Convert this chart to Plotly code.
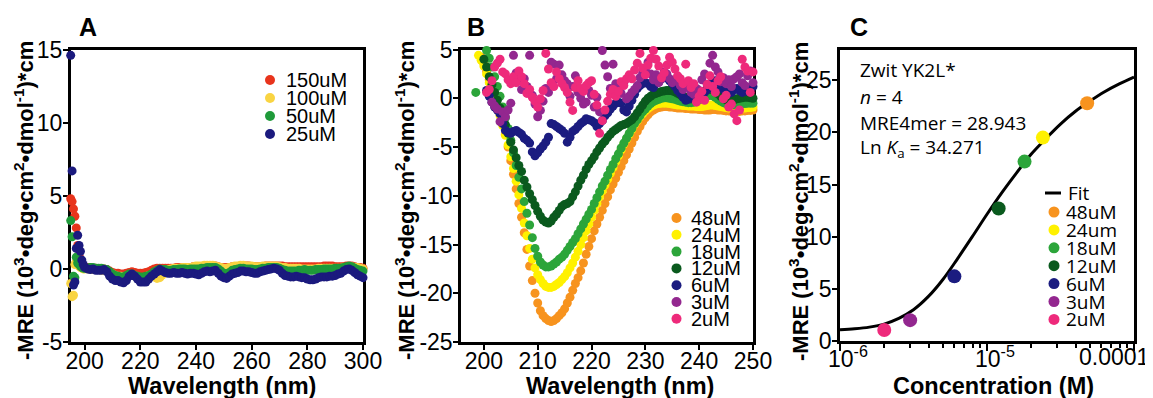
import plotly.graph_objects as go

# The page body adds an 8 px margin; positions below are given in window pixels.
OFF = 8
W, H = 1153 - OFF, 398 - OFF

# ---------------- Panel A data (wavelength nm, -MRE x1e3) ----------------
wl_a = [195 + 0.5 * i for i in range(11)] + list(range(201, 301))
a_names = ["150uM", "100uM", "50uM", "25uM"]
a_colors = ["#E8341C", "#F9D442", "#1F9A3A", "#1B1A7E"]
a_150 = [4.8, 4.6, 4.1, 3.6, 2.8, 1.6, 0.9, 0.5, 0.3, 0.2, 0.15,
         0.1, 0.1, 0.05, 0.05, 0.0, 0.0, 0.0, -0.05, -0.15, -0.25,
         -0.3, -0.3, -0.35, -0.35, -0.3, -0.25, -0.2, -0.25, -0.3, -0.3,
         -0.3, -0.25, -0.2, -0.1, 0.0, 0.05, 0.05, 0.05, 0.05, 0.05,
         0.05, 0.05, 0.1, 0.1, 0.1, 0.1, 0.1, 0.1, 0.15, 0.15,
         0.15, 0.15, 0.15, 0.2, 0.2, 0.2, 0.2, 0.15, 0.1, 0.1,
         0.1, 0.1, 0.15, 0.15, 0.15, 0.15, 0.2, 0.2, 0.2, 0.15,
         0.15, 0.15, 0.15, 0.15, 0.2, 0.2, 0.2, 0.2, 0.2, 0.2,
         0.2, 0.15, 0.15, 0.15, 0.15, 0.15, 0.15, 0.15, 0.15, 0.15,
         0.15, 0.15, 0.15, 0.15, 0.15, 0.2, 0.2, 0.2, 0.2, 0.15,
         0.15, 0.15, 0.15, 0.2, 0.2, 0.2, 0.15, 0.1, 0.1, 0.05]
a_100 = [-1.0, -1.9, -1.8, 0.3, 0.5, 0.3, 0.2, 0.1, 0.05, 0.0, 0.0,
         0.0, 0.0, -0.05, -0.05, -0.05, -0.1, -0.1, -0.15, -0.25, -0.35,
         -0.45, -0.5, -0.5, -0.55, -0.5, -0.45, -0.45, -0.5, -0.55, -0.6,
         -0.6, -0.55, -0.45, -0.45, -0.55, -0.65, -0.6, -0.4, -0.2, -0.05,
         0.0, 0.05, 0.05, 0.05, 0.1, 0.1, 0.1, 0.1, 0.15, 0.2,
         0.2, 0.2, 0.25, 0.25, 0.25, 0.25, 0.2, 0.15, 0.1, 0.05,
         0.05, 0.1, 0.15, 0.2, 0.2, 0.25, 0.25, 0.2, 0.2, 0.2,
         0.15, 0.15, 0.15, 0.2, 0.2, 0.2, 0.2, 0.2, 0.2, 0.15,
         0.1, 0.1, 0.05, 0.05, 0.05, 0.05, 0.05, 0.0, 0.0, 0.0,
         0.0, 0.0, 0.0, 0.05, 0.05, 0.05, 0.05, 0.05, 0.05, 0.05,
         0.05, 0.05, 0.1, 0.1, 0.15, 0.15, 0.1, 0.1, 0.05, 0.0]
a_50 = [3.3, 2.2, -0.5, -0.6, 0.8, 0.4, 0.3, 0.2, 0.1, 0.05, 0.05,
        0.05, 0.1, 0.1, 0.05, 0.05, 0.05, 0.0, -0.05, -0.2, -0.35,
        -0.45, -0.5, -0.55, -0.55, -0.45, -0.35, -0.35, -0.45, -0.5, -0.55,
        -0.55, -0.5, -0.45, -0.35, -0.2, -0.1, 0.0, -0.05, -0.05, -0.1,
        -0.1, -0.05, -0.05, 0.0, 0.0, 0.0, -0.05, 0.0, 0.0, 0.0,
        0.0, 0.05, 0.05, 0.1, 0.1, 0.1, 0.1, 0.0, -0.15, -0.3,
        -0.35, -0.25, -0.1, -0.05, 0.0, 0.05, 0.05, 0.0, 0.0, 0.0,
        -0.05, -0.05, 0.0, 0.05, 0.05, 0.1, 0.1, 0.1, 0.1, 0.05,
        -0.05, -0.1, -0.15, -0.15, -0.15, -0.15, -0.1, -0.1, -0.05, -0.1,
        -0.1, -0.1, -0.05, -0.05, -0.05, 0.0, 0.0, 0.0, 0.0, 0.05,
        0.05, 0.05, 0.1, 0.15, 0.2, 0.15, 0.05, -0.05, -0.1, -0.15]
a_25 = [14.6, 6.7, -1.1, -0.9, 1.4, 2.3, 1.6, 1.2, 0.6, 0.3, 0.1,
        0.0, -0.05, 0.0, -0.1, -0.1, -0.1, -0.05, -0.2, -0.5, -0.7,
        -0.8, -0.8, -0.9, -0.95, -0.8, -0.5, -0.35, -0.5, -0.7, -0.9,
        -0.9, -0.9, -0.7, -0.5, -0.35, -0.2, -0.05, -0.15, -0.25, -0.3,
        -0.3, -0.25, -0.3, -0.3, -0.25, -0.3, -0.35, -0.3, -0.3, -0.35,
        -0.4, -0.3, -0.2, -0.15, -0.2, -0.15, -0.1, -0.3, -0.5, -0.6,
        -0.65, -0.5, -0.35, -0.3, -0.25, -0.15, -0.15, -0.2, -0.2, -0.25,
        -0.3, -0.3, -0.2, -0.15, -0.1, -0.05, 0.0, 0.05, 0.0, -0.1,
        -0.3, -0.45, -0.5, -0.55, -0.55, -0.5, -0.55, -0.6, -0.6, -0.7,
        -0.75, -0.75, -0.7, -0.6, -0.55, -0.55, -0.55, -0.5, -0.5, -0.45,
        -0.35, -0.3, -0.15, -0.05, 0.0, -0.1, -0.25, -0.4, -0.5, -0.6]
a_series = [a_150, a_100, a_50, a_25]

# ---------------- Panel B data (0.5 nm steps from given start) ----------------
b_names = ["48uM", "24uM", "18uM", "12uM", "6uM", "3uM", "2uM"]
b_colors = ["#F7931E", "#FFF100", "#2CA53A", "#0A5A1E", "#1B1C80", "#93278F", "#EE2A7B"]
b_start = [199.5, 199.0, 198.5, 200.0, 200.5, 201.5, 200.5]
b_48 = [4.2,
        3.6, 2.8, 1.9, 1.0, 0.1, -0.7, -1.6, -2.6, -3.7, -5.0,
        -6.4, -7.8, -9.3, -10.8, -12.2, -13.8, -15.5, -17.2, -18.7, -20.0,
        -21.0, -21.8, -22.3, -22.6, -22.8, -22.9, -22.8, -22.6, -22.3, -22.0,
        -21.6, -21.0, -20.4, -19.7, -19.0, -18.4, -17.7, -16.9, -16.0, -15.2,
        -14.4, -13.6, -12.9, -12.2, -11.5, -10.8, -10.1, -9.4, -8.8, -8.2,
        -7.6, -7.0, -6.4, -5.8, -5.2, -4.6, -4.0, -3.4, -2.9, -2.4,
        -2.0, -1.7, -1.4, -1.2, -1.05, -0.95, -0.9, -0.85, -0.85, -0.9,
        -0.9, -0.95, -1.0, -1.0, -1.0, -1.05, -1.05, -1.1, -1.1, -1.1,
        -1.15, -1.15, -1.2, -1.2, -1.2, -1.15, -1.15, -1.2, -1.2, -1.25,
        -1.3, -1.3, -1.35, -1.35, -1.35, -1.35, -1.3, -1.3, -1.25, -1.25, -1.2]
b_24 = [4.4, 3.9,
        3.3, 2.5, 1.6, 0.8, -0.1, -0.9, -1.8, -2.8, -3.8, -4.8,
        -6.0, -7.2, -8.5, -9.9, -11.3, -12.8, -14.1, -15.4, -16.5, -17.4,
        -18.1, -18.6, -19.0, -19.3, -19.4, -19.4, -19.3, -19.1, -18.9, -18.6,
        -18.3, -17.9, -17.4, -16.9, -16.3, -15.7, -15.0, -14.3, -13.6, -12.9,
        -12.2, -11.5, -10.8, -10.1, -9.5, -8.9, -8.3, -7.7, -7.1, -6.5,
        -5.9, -5.3, -4.7, -4.2, -3.7, -3.2, -2.7, -2.3, -1.9, -1.6,
        -1.3, -1.05, -0.85, -0.7, -0.6, -0.55, -0.5, -0.5, -0.5, -0.55,
        -0.6, -0.65, -0.7, -0.7, -0.75, -0.75, -0.8, -0.8, -0.8, -0.85,
        -0.85, -0.85, -0.8, -0.75, -0.7, -0.7, -0.75, -0.8, -0.85, -0.9,
        -0.95, -1.0, -1.0, -1.05, -1.05, -1.05, -1.0, -1.0, -0.95, -0.95, -0.9]
b_18 = [0.6, None, None, None, 4.9, 4.1, 3.2, 2.2, 1.2, 0.2, -0.9, -2.0, -3.1,
        -4.3, -5.6, -6.9, -8.1, -9.3, -10.6, -11.8, -13.0, -14.3, -15.4,
        -16.2, -16.8, -17.1, -17.3, -17.3, -17.2, -17.0, -16.8, -16.5, -16.3,
        -16.0, -15.6, -15.2, -14.8, -14.4, -13.9, -13.4, -12.9, -12.4, -11.9,
        -11.4, -10.8, -10.2, -9.6, -9.0, -8.5, -7.9, -7.3, -6.8, -6.2,
        -5.7, -5.1, -4.6, -4.1, -3.6, -3.1, -2.6, -2.2, -1.8, -1.4,
        -1.1, -0.8, -0.55, -0.35, -0.2, -0.1, 0.0, 0.05, 0.05, 0.0,
        -0.05, -0.1, -0.2, -0.3, -0.35, -0.4, -0.45, -0.45, -0.4, -0.3,
        -0.15, 0.0, 0.15, 0.25, 0.3, 0.25, 0.1, -0.1, -0.3, -0.45,
        -0.55, -0.6, -0.65, -0.65, -0.6, -0.6, -0.55, -0.55, -0.5, -0.5, -0.5]
b_12 = [4.0, 3.2, 2.2, 1.4, 0.6, -0.2, -1.0, -1.8, -2.7, -3.6,
        -4.5, -5.3, -6.1, -6.9, -7.5, -8.4, -9.1, -9.8, -10.4, -11.0,
        -11.6, -12.1, -12.5, -12.7, -12.8, -12.6, -12.2, -11.9, -11.5, -11.1,
        -10.9, -10.8, -10.6, -10.1, -9.6, -9.0, -8.4, -7.9, -7.3, -6.8,
        -6.4, -6.0, -5.5, -5.1, -4.7, -4.4, -4.0, -3.7, -3.4, -3.2,
        -3.0, -2.8, -2.7, -2.6, -2.4, -2.2, -1.9, -1.5, -1.1, -0.7,
        -0.3, 0.0, 0.2, 0.4, 0.5, 0.6, 0.7, 0.75, 0.8, 0.8,
        0.75, 0.65, 0.5, 0.35, 0.2, 0.1, 0.0, -0.05, 0.0, 0.15,
        0.35, 0.55, 0.75, 0.9, 0.95, 0.9, 0.7, 0.45, 0.2, 0.0,
        -0.15, -0.2, -0.2, -0.15, -0.05, 0.0, 0.05, 0.1, 0.1, 0.05, 0.0]
b_6 = [0.8, 0.2, -0.4, -0.9, -1.2, -1.6, -2.6, -3.3, -3.5,
       -3.6, -3.4, -3.3, -3.5, -3.7, -4.1, -4.3, -4.6, -5.5, -5.9,
       -5.6, -5.2, -4.9, -4.5, -4.0, -2.6, -2.7, -2.9, -3.1, -3.3,
       -3.6, -4.5, -4.0, -3.4, -3.2, -2.9, -2.6, -2.4, -2.1, -2.2,
       -2.3, -2.5, -2.9, -2.6, -2.3, -1.8, -1.5, -1.1, -0.8, -0.5,
       -0.4, -0.5, -1.2, -1.4, -0.8, -0.2, 0.4, 1.0, 1.3, 1.5,
       1.6, 1.5, 1.2, 1.1, 1.5, 1.8, 2.0, 2.2, 2.1, 1.8,
       1.5, 1.2, 0.8, 0.5, 0.1, -0.2, -0.1, 0.1, 0.2, 0.3,
       0.3, 0.4, 0.6, 0.9, 1.2, 1.6, 1.8, 1.5, 1.1, 0.9,
       0.6, 0.5, 0.6, 0.9, 1.0, 0.8, 0.6, 0.7, 0.9, 1.1, 1.2]
b_3 = [-0.4, -0.8, -1.1, -2.4, -1.4, -1.9, -1.2,
       -0.5, 4.4, 2.6, 1.8, 0.9, 2.0, 1.2, 4.4, 0.3, -0.6,
       -1.9, -1.25, -0.3, 1.0, 0.6, 3.7, 3.5, 2.0, 3.4, 2.4,
       1.8, 1.5, 0.2, 1.2, 2.3, 0.6, 0.0, -0.6, -0.4, 0.8,
       0.3, -0.9, 0.1, -1.4, 4.9, 3.4, 2.2, 1.0, 3.5, 1.5,
       1.0, 0.5, 1.6, -0.05, 0.2, 0.6, 0.9, 1.3, 2.1, 2.6,
       2.9, 3.7, 2.5, 1.9, 2.4, 1.6, 2.0, 2.7, 2.5, 2.0,
       1.6, 1.8, 2.2, 1.3, 0.9, 1.5, 1.2, 0.6, 0.4, 1.0,
       0.8, 1.9, 2.5, 1.4, 3.6, 4.4, 3.2, 2.7, 1.7, 2.1,
       1.5, 1.9, 1.2, 2.0, 2.2, 2.5, 1.6, 1.3, 2.3, 2.8, 1.6]
b_2 = [0.6, 0.9, 1.8, 3.2, 3.6, 4.0, 2.7, 2.5, 1.9,
       1.5, 2.2, 1.6, 2.8, 2.2, 1.5, 0.5, 0.9, 0.1, -0.3,
       -0.9, -0.05, 0.8, 4.6, 3.0, 1.6, 1.2, 2.7, 2.0, 1.5,
       1.1, 0.6, -0.4, -1.25, 1.1, 1.8, 1.0, 0.7, 1.3, 1.6,
       1.8, 0.4, -0.7, -3.6, -2.3, -1.2, -0.3, 0.4, 0.9, 0.2,
       0.7, 1.7, 1.3, 2.0, 2.4, 2.0, 2.9, 3.6, 4.6, 3.1,
       2.4, 3.4, 4.1, 4.9, 4.0, 3.3, 2.1, 2.6, 3.4, 4.2,
       3.7, 3.0, 2.3, 2.0, 1.5, 3.5, 1.8, 1.1, 1.5, -0.4,
       0.2, 0.7, -0.2, 1.4, 2.3, 1.2, 0.6, 1.8, 2.2, -0.05,
       0.3, -0.9, -0.6, -1.6, -2.3, -1.2, 4.0, 3.2, 2.8, 0.6, 2.7]
b_series = [b_48, b_24, b_18, b_12, b_6, b_3, b_2]

# ---------------- Panel C data ----------------
c_names = ["48uM", "24um", "18uM", "12uM", "6uM", "3uM", "2uM"]
c_conc = [48e-6, 24e-6, 18e-6, 12e-6, 6e-6, 3e-6, 2e-6]
c_mre = [22.8, 19.5, 17.2, 12.7, 6.2, 2.0, 1.05]
fit_conc = [1e-6, 1.259e-6, 1.585e-6, 1.995e-6, 2.512e-6, 3.162e-6, 3.981e-6,
            5.012e-6, 6.31e-6, 7.943e-6, 1e-5, 1.259e-5, 1.585e-5, 1.995e-5,
            2.512e-5, 3.162e-5, 3.981e-5, 5.012e-5, 6.31e-5, 7.943e-5, 1e-4]
fit_mre = [1.08, 1.17, 1.33, 1.62, 2.17, 3.0, 4.25, 5.9, 7.9, 10.0, 12.15,
           14.2, 16.1, 17.9, 19.4, 20.8, 22.0, 23.0, 23.9, 24.65, 25.3]

fig = go.Figure()

for name, vals, col in zip(a_names, a_series, a_colors):
    fig.add_trace(go.Scatter(x=wl_a, y=vals, mode="markers", name=name,
                             marker=dict(size=9, color=col, line=dict(width=0)),
                             cliponaxis=False, showlegend=False, xaxis="x", yaxis="y"))

for name, vals, col, st in zip(b_names, b_series, b_colors, b_start):
    xs = [st + 0.5 * i for i in range(len(vals))]
    fig.add_trace(go.Scatter(x=xs, y=vals, mode="markers", name=name,
                             marker=dict(size=9, color=col, line=dict(width=0)),
                             cliponaxis=False, showlegend=False, xaxis="x2", yaxis="y2"))

fig.add_trace(go.Scatter(x=fit_conc, y=fit_mre, mode="lines", name="Fit",
                         line=dict(color="black", width=3, shape="spline"),
                         cliponaxis=False, showlegend=False, xaxis="x3", yaxis="y3"))
for i in range(len(c_conc)):
    fig.add_trace(go.Scatter(x=[c_conc[i]], y=[c_mre[i]], mode="markers", name=c_names[i],
                             marker=dict(size=14, color=b_colors[i], line=dict(width=0)),
                             cliponaxis=False, showlegend=False, xaxis="x3", yaxis="y3"))


def px(x):
    return (x - OFF) / W


def py(y):
    return 1 - (y - OFF) / H


TF = dict(family="Liberation Sans, Arial, sans-serif", size=23, color="black")
common = dict(showline=True, linecolor="black", linewidth=2.5, mirror=True,
              ticks="outside", tickwidth=2, tickcolor="black",
              showgrid=False, zeroline=False, tickfont=TF, layer="below traces",
              automargin=False)
xcommon = dict(common, ticklen=5, ticklabelstandoff=-8)
ycommon = dict(common, ticklen=5, ticklabelstandoff=-4)

ydomAB = [py(342), py(49.5)]
ydomC = [py(341), py(50)]

fig.update_layout(
    width=W, height=H, margin=dict(l=0, r=0, t=0, b=0),
    paper_bgcolor="white", plot_bgcolor="white", showlegend=False,
    xaxis=dict(domain=[px(70.7), px(363)], range=[195, 300], anchor="y",
               tickvals=[200, 220, 240, 260, 280, 300], **xcommon),
    yaxis=dict(domain=ydomAB, range=[-5, 15], anchor="x",
               tickvals=[-5, 0, 5, 10, 15], ticktext=["-5", "0", "5", "10", "15"], **ycommon),
    xaxis2=dict(domain=[px(461), px(753)], range=[195.75, 250], anchor="y2",
                tickvals=[200, 210, 220, 230, 240, 250], **xcommon),
    yaxis2=dict(domain=ydomAB, range=[-25, 5], anchor="x2",
                tickvals=[-25, -20, -15, -10, -5, 0, 5],
                ticktext=["-25", "-20", "-15", "-10", "-5", "0", "5"], **ycommon),
    xaxis3=dict(domain=[px(840), px(1134)], type="log", range=[-6, -4], anchor="y3",
                tickvals=[1e-6, 1e-5, 1e-4], showticklabels=False, ticklen=7,
                minor=dict(ticks="outside", ticklen=4, tickwidth=1.5, tickcolor="black",
                           tickvals=[2e-6, 3e-6, 4e-6, 5e-6, 6e-6, 7e-6, 8e-6, 9e-6,
                                     2e-5, 3e-5, 4e-5, 5e-5, 6e-5, 7e-5, 8e-5, 9e-5]),
                **common),
    yaxis3=dict(domain=ydomC, range=[0, 27.9], anchor="x3",
                tickvals=[0, 5, 10, 15, 20, 25], **ycommon),
)

ann = []
shapes = []


def text(x, y, s, size, family="Liberation Sans, Arial, sans-serif", bold=False,
         xanchor="left", angle=0):
    ann.append(dict(x=px(x), y=py(y), xref="paper", yref="paper", text=s, showarrow=False,
                    xanchor=xanchor, yanchor="middle", textangle=angle,
                    font=dict(family=family, size=size, color="black",
                              weight="bold" if bold else "normal")))


def dot(x, y, d, color):
    shapes.append(dict(type="circle", xref="paper", yref="paper", xsizemode="pixel",
                       ysizemode="pixel", xanchor=px(x), yanchor=py(y),
                       x0=-d / 2, x1=d / 2, y0=-d / 2, y1=d / 2,
                       fillcolor=color, line=dict(width=0)))


# Panel letters
text(88, 27, "A", 25, bold=True, xanchor="center")
text(475.5, 27, "B", 25, bold=True, xanchor="center")
text(859.5, 27, "C", 25, bold=True, xanchor="center")

# Axis titles
ytitle = "-MRE (10<sup>3</sup>•deg•cm<sup>2</sup>•dmol<sup>-1</sup>)*cm"
text(24, 201, ytitle, 22, bold=True, xanchor="center", angle=-90)
text(405, 201, ytitle, 22, bold=True, xanchor="center", angle=-90)
text(799, 202, ytitle, 22, bold=True, xanchor="center", angle=-90)
text(222, 386, "Wavelength (nm)", 23.5, bold=True, xanchor="center")
text(620, 386, "Wavelength (nm)", 23.5, bold=True, xanchor="center")
text(993, 386, "Concentration (M)", 23.5, bold=True, xanchor="center")

# Panel C x tick labels (log axis)
for xv, s, xa, sh in [(-6, "10<sup>-6</sup>", "left", -14), (-5, "10<sup>-5</sup>", "left", -14),
                      (-4, "0.0001", "right", 17)]:
    ann.append(dict(x=xv, y=py(357), xref="x3", yref="paper", text=s, showarrow=False,
                    xanchor=xa, yanchor="middle", xshift=sh,
                    font=dict(family="Liberation Sans, Arial, sans-serif", size=23, color="black")))

# Panel A legend
for i, (n, c) in enumerate(zip(a_names, a_colors)):
    yy = 80 + 18 * i
    dot(270, yy, 10, c)
    text(284, yy, n, 20)

# Panel B legend
for i, (n, c) in enumerate(zip(b_names, b_colors)):
    yy = 218 + 16.8 * i
    dot(676.5, yy, 10, c)
    text(689, yy, n, 20)

# Panel C legend
OS = "Open Sans, Noto Sans, sans-serif"
shapes.append(dict(type="line", xref="paper", yref="paper", x0=px(1045), x1=px(1061),
                   y0=py(193), y1=py(193), line=dict(color="black", width=3)))
text(1066, 193, "Fit", 19, family=OS)
for i, (n, c) in enumerate(zip(c_names, b_colors)):
    yy = 212 + 17.9 * i
    dot(1054, yy, 11, c)
    text(1064, yy, n, 19, family=OS)

# Panel C info text
text(858, 70, "Zwit YK2L*", 19, family=OS)
text(858, 97, "<i>n</i> = 4", 19, family=OS)
text(858, 122.5, "MRE4mer = 28.943", 19, family=OS)
text(858, 148, "Ln <i>K</i><sub>a</sub> = 34.271", 19, family=OS)

fig.update_layout(annotations=ann, shapes=shapes)
fig.write_html("out.html")
